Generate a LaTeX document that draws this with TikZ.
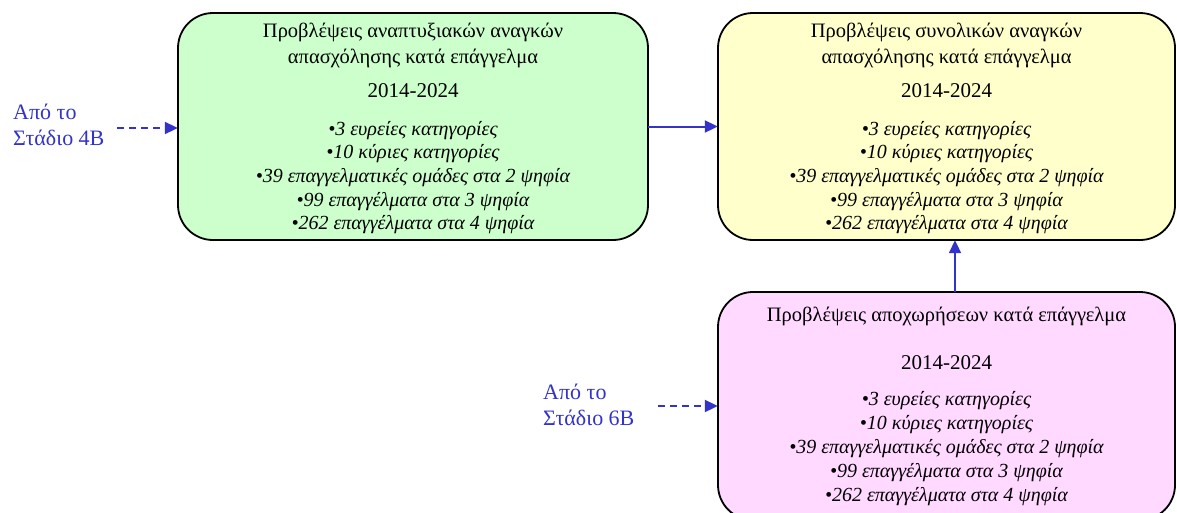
\documentclass[tikz,border=0pt]{standalone}
\usepackage{fontspec}
\setmainfont{Liberation Serif}
\usetikzlibrary{arrows.meta}
\definecolor{arrblue}{HTML}{3333CC}
\definecolor{gfill}{HTML}{CCFFCC}
\definecolor{yfill}{HTML}{FFFFCC}
\definecolor{pfill}{HTML}{FFD9FF}
\tikzset{
  box/.style={draw=black, line width=1.8pt, rounded corners=35pt, inner sep=0pt},
  ttl/.style={anchor=base, inner sep=0pt, font=\fontsize{20.5}{24}\selectfont},
  yr/.style={anchor=base, inner sep=0pt, font=\fontsize{21}{25}\selectfont},
  bul/.style={anchor=base, inner sep=0pt, font=\fontsize{20}{24}\selectfont\itshape},
  lbl/.style={anchor=base west, inner sep=0pt, align=left, text=arrblue, font=\fontsize{22}{26}\selectfont},
  arr/.style={draw=arrblue, line width=2pt, -{Triangle[length=13pt,width=12pt]}},
  darr/.style={arr, dash pattern=on 7pt off 5pt}
}
\begin{document}
\begin{tikzpicture}[x=1pt,y=-1pt]
\useasboundingbox (0,0) rectangle (1177,512);
% boxes
\draw[box, fill=gfill] (178,13) rectangle (648,240);
\node[inner sep=0pt, minimum width=470pt, minimum height=227pt] (gbox) at (413,126.5) {};
\draw[box, fill=yfill] (718,13) rectangle (1175,240);
\node[inner sep=0pt, minimum width=457pt, minimum height=227pt] (ybox) at (946.5,126.5) {};
\draw[box, fill=pfill] (718,292) rectangle (1175,520);
\node[inner sep=0pt, minimum width=457pt, minimum height=228pt] (pbox) at (946.5,406) {};
% green text
\node[ttl] (g1) at (413,37) {Προβλέψεις αναπτυξιακών αναγκών};
\node[ttl] (g2) at (413,63) {απασχόλησης κατά επάγγελμα};
\node[yr] (g3) at (413,97) {2014-2024};
\foreach \t [count=\i] in {3 ευρείες κατηγορίες,10 κύριες κατηγορίες,39 επαγγελματικές ομάδες στα 2 ψηφία,99 επαγγέλματα στα 3 ψηφία,262 επαγγέλματα στα 4 ψηφία}
  \node[bul] (gb\i) at (413,{135+23.7*(\i-1)}) {•\t};
% yellow text
\node[ttl] (y1) at (946.5,37) {Προβλέψεις συνολικών αναγκών};
\node[ttl] (y2) at (946.5,63) {απασχόλησης κατά επάγγελμα};
\node[yr] (y3) at (946.5,97) {2014-2024};
\foreach \t [count=\i] in {3 ευρείες κατηγορίες,10 κύριες κατηγορίες,39 επαγγελματικές ομάδες στα 2 ψηφία,99 επαγγέλματα στα 3 ψηφία,262 επαγγέλματα στα 4 ψηφία}
  \node[bul] (yb\i) at (946.5,{135+23.7*(\i-1)}) {•\t};
% pink text
\node[ttl] (p1) at (946.5,321) {Προβλέψεις αποχωρήσεων κατά επάγγελμα};
\node[yr] (p3) at (946.5,369) {2014-2024};
\foreach \t [count=\i] in {3 ευρείες κατηγορίες,10 κύριες κατηγορίες,39 επαγγελματικές ομάδες στα 2 ψηφία,99 επαγγέλματα στα 3 ψηφία,262 επαγγέλματα στα 4 ψηφία}
  \node[bul] (pb\i) at (946.5,{405+24.2*(\i-1)}) {•\t};
% side labels
\node[lbl] (l4) at (13,145) {Από το\\Στάδιο 4B};
\node[lbl] (l6) at (543,425) {Από το\\Στάδιο 6B};
\coordinate (s4) at (117,128);
\coordinate (s6) at (658,406);
% connectors
\draw[darr] (s4) -- (s4 -| gbox.west);
\draw[darr] (s6) -- (s6 -| pbox.west);
\draw[arr] (gbox.east) -- (ybox.west);
\draw[arr] ([xshift=8.5pt]pbox.north) -- ([xshift=8.5pt]ybox.south);
\end{tikzpicture}
\end{document}
